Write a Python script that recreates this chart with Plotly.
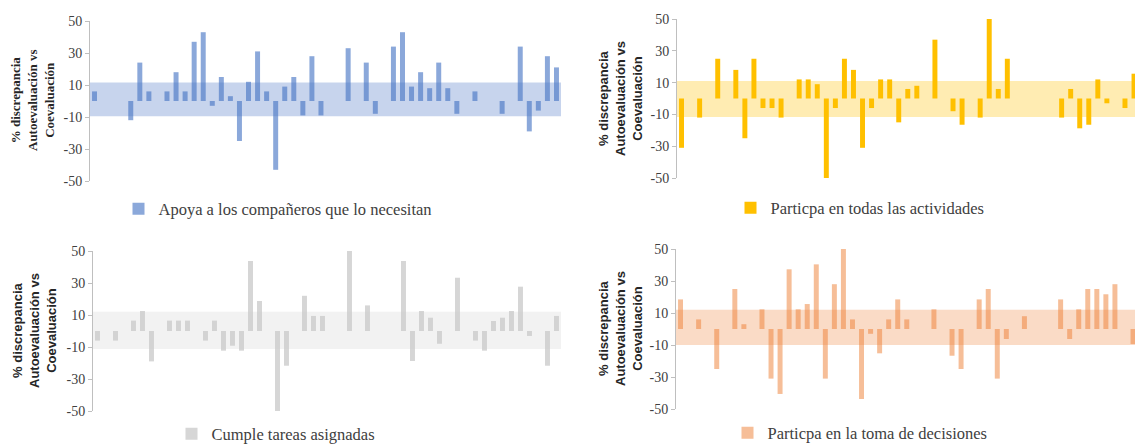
import plotly.graph_objects as go

# ---------------- data ----------------
estudiantes = list(range(1, 53))
N = None

apoya = [6, N, N, N, -12, 24, 6, N, 6, 18, 6, 37, 43, -3, 15, 3, -25, 12, 31, 6,
         -43, 9, 15, -9, 28, -9, N, N, 33, N, 24, -8, N, 34, 43, 9, 18, 8, 24, 8,
         -8, N, 6, N, N, -8, N, 34, -19, -6, 28, 21]

participa_act = [-31, N, -12, N, 25, N, 18, -25, 25, -6, -6, -12, N, 12, 12, 9, -50, -6, 25, 18,
                 -31, -6, 12, 12, -15, 6, 8, N, 37, N, -8, -16.5, N, -12, 50, 6, 25, N, N, N,
                 N, N, -12, 6, -18.75, -16.5, 12, -3, N, -6, 15.6, N]

cumple = [-6, N, -6, N, 6.5, 12.5, -19, N, 6.5, 6.5, 6.5, N, -6, 6.5, -12.3, -9.2, -12.3, 43.75, 18.75, N,
          -50, -21.7, N, 22, 9.4, 9.4, N, N, 50, N, 16, N, N, N, 43.75, -18.75, 12.5, 8.3, -8, N,
          33.3, N, -6, -12.3, 6.25, 8.3, 12.5, 27.7, -3.1, N, -21.7, 9.4]

decisiones = [18.5, N, 6, N, -25, N, 25, 3, N, 12.3, -31, -40.6, 37.3, 12.3, 15.6, 40.4, -31, 28, 50, 6,
              -43.75, -3, -15.2, 6, 18.5, 6, N, N, 12.3, N, -16.7, -25, N, 18.5, 25, -31, -6.25, N, 8, N,
              N, N, 18.5, -6.25, 12.3, 25, 25, 21.7, 28, N, -9.4, N]

series_names = ["Apoya a los compañeros que lo necesitan",
                "Particpa en todas las actividades",
                "Cumple tareas asignadas",
                "Particpa en la toma de decisiones"]

# band (lower, upper) for each panel
banda_apoya = [-9.5, 11.5]
banda_act = [-11.6, 11]
banda_cumple = [-11.3, 12]
banda_decisiones = [-10, 12]

y_ticks = [-50, -30, -10, 10, 30, 50]
y_ticktext = ["-50", "-30", "-10", "10", "30", "50"]

y_title = "% discrepancia<br>Autoevaluación vs<br>Coevaluación"

# ---------------- figure ----------------
W, H = 1135, 445
fig = go.Figure()

bar_colors = ["rgba(68,114,196,0.62)", "rgba(255,192,0,1)",
              "rgba(200,200,200,0.75)", "rgba(237,125,49,0.5)"]
band_colors = ["rgba(68,114,196,0.30)", "rgba(255,192,0,0.30)",
               "rgba(210,210,210,0.28)", "rgba(237,125,49,0.28)"]
values = [apoya, participa_act, cumple, decisiones]
bands = [banda_apoya, banda_act, banda_cumple, banda_decisiones]

# pixel geometry of each plot area: (left, right, top, bottom)
boxes = [(90, 561, 21, 181), (677, 1135, 19, 178), (93, 561, 251, 411), (676, 1135, 249, 409)]
legend_pos = [(278, 209), (860, 208), (276, 434), (860, 433)]
title_pos = [(33, 101), (620, 99), (34, 331), (620, 329)]
title_fonts = ["Liberation Serif", "Liberation Sans", "Liberation Sans", "Liberation Sans"]

for k in range(4):
    sfx = "" if k == 0 else str(k + 1)
    lg = "legend" if k == 0 else "legend" + str(k + 1)
    fig.add_trace(go.Bar(
        x=estudiantes, y=values[k], name=series_names[k],
        marker=dict(color=bar_colors[k], line=dict(width=0)),
        width=0.55, xaxis="x" + sfx, yaxis="y" + sfx, legend=lg,
        hoverinfo="x+y"))
    l, r, t, b = boxes[k]
    x_end = 0.5 + (r - l) / 9.05 if k in (1, 3) else 52.5
    fig.layout["xaxis" + sfx] = dict(
        domain=[l / W, r / W], range=[0.5, x_end], visible=False,
        anchor="y" + sfx, fixedrange=True)
    fig.layout["yaxis" + sfx] = dict(
        domain=[1 - b / H, 1 - t / H], range=[-50, 50], anchor="x" + sfx,
        tickvals=y_ticks, ticktext=y_ticktext, showgrid=False, zeroline=False,
        showline=True, linecolor="#BFBFBF", linewidth=1,
        ticks="outside", ticklen=4, tickcolor="#BFBFBF",
        tickfont=dict(family="Liberation Serif", size=14, color="#404040"))
    fig.add_shape(type="rect", xref="x" + sfx + " domain", yref="y" + sfx,
                  x0=0, x1=1, y0=bands[k][0], y1=bands[k][1],
                  fillcolor=band_colors[k], line=dict(width=0), layer="below")
    lx, ly = legend_pos[k]
    fig.layout[lg] = dict(x=lx / W, y=1 - ly / H, xanchor="center", yanchor="middle",
                          orientation="h", itemwidth=30, bgcolor="rgba(0,0,0,0)",
                          font=dict(family="Liberation Serif", size=16.5, color="#404040"))
    tx, ty = title_pos[k]
    fig.add_annotation(x=tx / W, y=1 - ty / H, xref="paper", yref="paper",
                       text="<b>" + y_title + "</b>", textangle=-90, showarrow=False,
                       xanchor="center", yanchor="middle", align="center",
                       font=dict(family=title_fonts[k], size=13, color="#262626"))

fig.update_layout(width=W, height=H,
                  margin=dict(l=0, r=0, t=0, b=0, pad=0, autoexpand=False),
                  paper_bgcolor="white", plot_bgcolor="white", barmode="overlay",
                  showlegend=True)

fig.write_html("out.html", config={"displayModeBar": False},
               post_script="document.body.style.margin='0';document.body.style.overflow='hidden';")
